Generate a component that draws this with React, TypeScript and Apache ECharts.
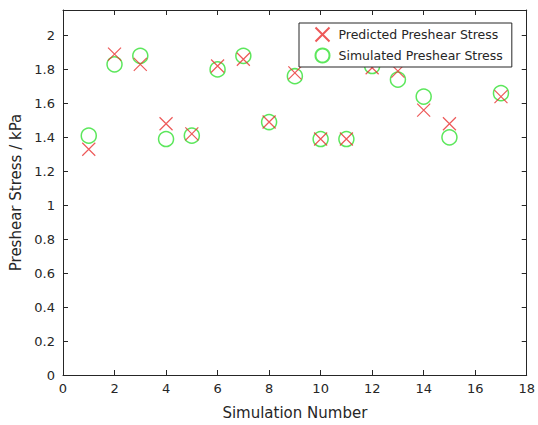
import React, { useEffect, useRef } from "react";
import * as echarts from "echarts";

const simNumbers = [1, 2, 3, 4, 5, 6, 7, 8, 9, 10, 11, 12, 13, 14, 15, 17];
const predicted = [1.33, 1.89, 1.83, 1.48, 1.42, 1.82, 1.86, 1.49, 1.78, 1.39, 1.39, 1.81, 1.79, 1.56, 1.48, 1.64];
const simulated = [1.41, 1.83, 1.88, 1.39, 1.41, 1.80, 1.88, 1.49, 1.76, 1.39, 1.39, 1.82, 1.74, 1.64, 1.40, 1.66];
const xTicks = { min: 0, max: 18, step: 2 };
const yTicks = { min: 0, max: 2.15, step: 0.2 };

const AXIS = "#262626";
const FONT = "DejaVu Sans";

export default function App() {
  const ref = useRef<HTMLDivElement>(null);
  useEffect(() => {
    const chart = echarts.init(ref.current!, null, { renderer: "svg" });
    const line = { show: true, onZero: false, lineStyle: { color: AXIS, width: 1 } };
    const tick = { show: true, inside: true, length: 5, lineStyle: { color: AXIS } };
    chart.setOption({
      animation: false,
      backgroundColor: "#fff",
      textStyle: { fontFamily: FONT },
      grid: { left: 60, right: 10, top: 10, bottom: 45 },
      legend: {
        orient: "vertical",
        left: 299,
        top: 23,
        padding: [2, 9, 2, 14],
        itemGap: 2,
        itemWidth: 14,
        itemHeight: 14,
        borderColor: AXIS,
        borderWidth: 1,
        backgroundColor: "#fff",
        textStyle: { fontFamily: FONT, fontSize: 12.5, lineHeight: 16, color: AXIS, padding: [0, 0, 0, 4] },
        data: ["Predicted Preshear Stress", "Simulated Preshear Stress"],
      },
      xAxis: [
        {
          type: "value",
          min: xTicks.min,
          max: xTicks.max,
          interval: xTicks.step,
          name: "Simulation Number",
          nameLocation: "middle",
          nameGap: 30,
          nameTextStyle: { fontFamily: FONT, fontSize: 15, color: AXIS },
          axisLine: line,
          axisTick: tick,
          axisLabel: { fontFamily: FONT, fontSize: 13, color: AXIS, margin: 7 },
          splitLine: { show: false },
        },
        {
          type: "value",
          position: "top",
          min: xTicks.min,
          max: xTicks.max,
          interval: xTicks.step,
          axisLine: line,
          axisTick: tick,
          axisLabel: { show: false },
          splitLine: { show: false },
        },
      ],
      yAxis: [
        {
          type: "value",
          min: yTicks.min,
          max: yTicks.max,
          interval: yTicks.step,
          name: "Preshear Stress / kPa",
          nameLocation: "middle",
          nameGap: 40,
          nameTextStyle: { fontFamily: FONT, fontSize: 15, color: AXIS },
          axisLine: line,
          axisTick: tick,
          axisLabel: { fontFamily: FONT, fontSize: 13, color: AXIS, margin: 8, showMaxLabel: false },
          splitLine: { show: false },
        },
        {
          type: "value",
          position: "right",
          min: yTicks.min,
          max: yTicks.max,
          interval: yTicks.step,
          axisLine: line,
          axisTick: tick,
          axisLabel: { show: false },
          splitLine: { show: false },
        },
      ],
      series: [
        {
          name: "Predicted Preshear Stress",
          type: "scatter",
          symbol: "path://M0,0L10,10M10,0L0,10",
          symbolSize: 13,
          itemStyle: { color: "none", borderColor: "#e8302f", borderWidth: 1.2 },
          data: simNumbers.map((x, i) => [x, predicted[i]]),
          z: 3,
        },
        {
          name: "Simulated Preshear Stress",
          type: "scatter",
          symbol: "circle",
          symbolSize: 15,
          itemStyle: { color: "none", borderColor: "#33e133", borderWidth: 1.5 },
          data: simNumbers.map((x, i) => [x, simulated[i]]),
          z: 2,
        },
      ],
    });
    return () => chart.dispose();
  }, []);
  return (
    <div
      ref={ref}
      style={{ position: "fixed", left: 0, top: 0, width: 538, height: 425, overflow: "hidden" }}
    />
  );
}
